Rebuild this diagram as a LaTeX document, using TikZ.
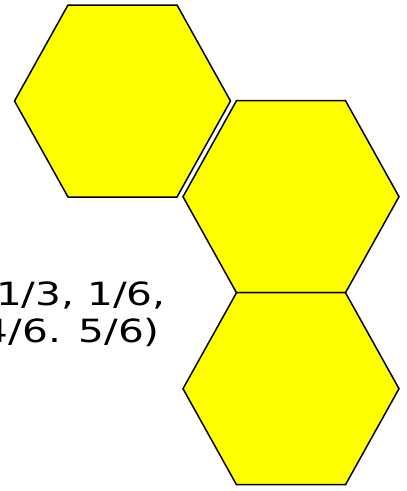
\documentclass[tikz,border=0pt]{standalone}
\usepackage{fontspec}
\usepackage{tikz}
\newfontfamily\numfont{DejaVu Sans}
\definecolor{cellyellow}{RGB}{255,255,0}
\tikzset{
  hexcell/.style={draw=black, fill=cellyellow, line width=1.5pt, line join=miter},
  numtext/.style={font=\numfont\fontsize{32}{36}\selectfont, text=black, inner sep=0pt, outer sep=0pt, xscale=1.27, anchor=base west}
}

\begin{document}
\begin{tikzpicture}[x=1pt, y=-1pt]
    \clip (0,0) rectangle (407,491);
    % ---- three yellow cells
    \foreach \cx/\cy/\name in {122.5/101/hexa, 291/196.7/hexb, 291/388.7/hexc} {
        \coordinate (\name) at (\cx,\cy);
        \draw[hexcell] (\cx-108,\cy) -- (\cx-54.5,\cy-96) -- (\cx+54.5,\cy-96)
            -- (\cx+108,\cy) -- (\cx+54.5,\cy+96) -- (\cx-54.5,\cy+96) -- cycle;
    }
    % ---- cut-off list on the left
    \node[numtext] (rowa) at (-4,305) {1/3, 1/6,};
    \node[numtext] (rowb) at (-17,342) {4/6. 5/6)};
\end{tikzpicture}
\end{document}
